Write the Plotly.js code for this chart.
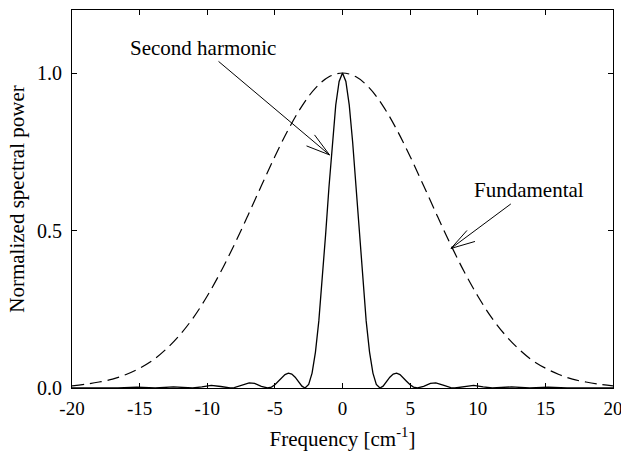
<!DOCTYPE html>
<html>
<head>
<meta charset="utf-8">
<script src="https://cdn.plot.ly/plotly-3.0.1.min.js"></script>
<style>html,body{margin:0;padding:0;background:#fff;}#chart{width:621px;height:453px;}</style>
</head>
<body>
<div id="chart"></div>
<script>
// Fundamental (dashed)
const fundX = [-20,-19,-18,-17,-16,-15,-14,-13,-12,-11,-10,-9,-8,-7,-6,-5,-4,-3,-2,-1,0,1,2,3,4,5,6,7,8,9,10,11,12,13,14,15,16,17,18,19,20];
const fundY = [0.007,0.012,0.019,0.028,0.043,0.063,0.089,0.125,0.170,0.225,0.292,0.369,0.455,0.547,0.642,0.735,0.821,0.895,0.952,0.988,1.000,0.988,0.952,0.895,0.821,0.735,0.642,0.547,0.455,0.369,0.292,0.225,0.170,0.125,0.089,0.063,0.043,0.028,0.019,0.012,0.007];

// Second harmonic (solid)
const shgX = [-20,-16.6,-15.2,-13.85,-12.5,-11.08,-10.4,-9.7,-9.0,-8.31,-8.0,-7.5,-6.9,-6.5,-6.0,-5.54,-5.25,-5.0,-4.75,-4.5,-4.25,-4.0,-3.75,-3.5,-3.25,-3.0,-2.77,-2.5,-2.25,-2.0,-1.75,-1.5,-1.25,-1.0,-0.75,-0.5,-0.25,0,
              0.25,0.5,0.75,1.0,1.25,1.5,1.75,2.0,2.25,2.5,2.77,3.0,3.25,3.5,3.75,4.0,4.25,4.5,4.75,5.0,5.25,5.54,6.0,6.5,6.9,7.5,8.0,8.31,9.0,9.7,10.4,11.08,12.5,13.85,15.2,16.6,20];
const shgY = [0,0,0.0025,0,0.0035,0,0.0035,0.0083,0.0048,0,0.0014,0.0087,0.0163,0.0145,0.0053,0,0.0029,0.0103,0.0209,0.0329,0.0425,0.0472,0.0443,0.0344,0.0197,0.0058,0,0.0113,0.0474,0.114,0.213,0.340,0.486,0.638,0.781,0.898,0.973,1.000,
              0.973,0.898,0.781,0.638,0.486,0.340,0.213,0.114,0.0474,0.0113,0,0.0058,0.0197,0.0344,0.0443,0.0472,0.0425,0.0329,0.0209,0.0103,0.0029,0,0.0053,0.0145,0.0163,0.0087,0.0014,0,0.0048,0.0083,0.0035,0,0.0035,0,0.0025,0,0];

const xTicks = [-20,-15,-10,-5,0,5,10,15,20];
const xTickText = ['-20','-15','-10','-5','0','5','10','15','20'];
const yTicks = [0,0.5,1.0];
const yTickText = ['0.0','0.5','1.0'];

const serif = "'Liberation Serif', 'Times New Roman', Times, serif";

const traces = [
  {x: fundX, y: fundY, type: 'scatter', mode: 'lines', name: 'Fundamental',
   line: {color: '#000', width: 1.2, dash: '12px,6px', shape: 'spline'}},
  {x: shgX, y: shgY, type: 'scatter', mode: 'lines', name: 'Second harmonic',
   line: {color: '#000', width: 1.3}}
];

const axisCommon = {
  showline: true, linecolor: '#000', linewidth: 1, mirror: 'allticks',
  ticks: 'inside', ticklen: 5, tickwidth: 1, tickcolor: '#000',
  showgrid: false, zeroline: false, ticklabeloverflow: 'allow'
};

const shTip = {x: -0.96, y: 0.74};
const fTip = {x: 8.02, y: 0.443};

function barb(tip, dx, dy) {
  return {type: 'line', xref: 'x', yref: 'y', xsizemode: 'pixel', ysizemode: 'pixel',
          xanchor: tip.x, yanchor: tip.y, x0: 0, y0: 0, x1: dx, y1: dy,
          line: {color: '#000', width: 1}};
}

const layout = {
  width: 621, height: 453,
  margin: {l: 72, r: 8, t: 10, b: 65},
  paper_bgcolor: '#fff', plot_bgcolor: '#fff',
  showlegend: false,
  font: {family: serif, color: '#000'},
  xaxis: Object.assign({}, axisCommon, {
    range: [-20, 20], tickvals: xTicks, ticktext: xTickText, ticklabelstandoff: 3,
    tickfont: {family: serif, size: 19, color: '#000'},
    title: {text: 'Frequency [cm<sup>-1</sup>]', font: {family: serif, size: 21, color: '#000'}, standoff: 13}
  }),
  yaxis: Object.assign({}, axisCommon, {
    range: [0, 1.2], tickvals: yTicks, ticktext: yTickText, ticklabelstandoff: 5,
    tickfont: {family: serif, size: 20, color: '#000'},
    title: {text: 'Normalized spectral power', font: {family: serif, size: 21, color: '#000'}, standoff: 6}
  }),
  shapes: [
    barb(shTip, -15, 20), barb(shTip, -23, 9),
    barb(fTip, 16, 18), barb(fTip, 24, 7)
  ],
  annotations: [
    {x: shTip.x, y: shTip.y, xref: 'x', yref: 'y', text: 'Second harmonic', showarrow: true,
     arrowhead: 0, arrowwidth: 1, arrowcolor: '#000', ax: -127, ay: -107, standoff: 0,
     font: {family: serif, size: 21, color: '#000'}},
    {x: fTip.x, y: fTip.y, xref: 'x', yref: 'y', text: 'Fundamental', showarrow: true,
     arrowhead: 0, arrowwidth: 1, arrowcolor: '#000', ax: 78, ay: -58, standoff: 0,
     font: {family: serif, size: 21, color: '#000'}}
  ]
};

Plotly.newPlot('chart', traces, layout, {displayModeBar: false, staticPlot: true});
</script>
</body>
</html>
